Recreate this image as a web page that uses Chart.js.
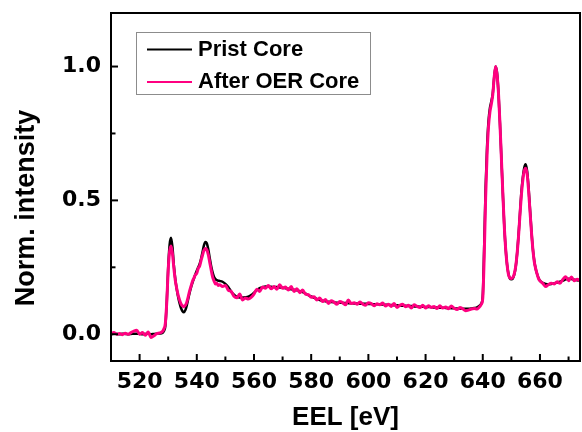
<!DOCTYPE html>
<html>
<head>
<meta charset="utf-8">
<script src="https://cdn.jsdelivr.net/npm/chart.js@4/dist/chart.umd.min.js"></script>
<style>
  html, body { margin: 0; padding: 0; background: #fff; }
  #wrap { width: 582px; height: 432px; }
</style>
</head>
<body>
<div id="wrap"><canvas id="eels" width="582" height="432"></canvas></div>
<script>
// energy loss axis [eV]
const energy = [
  510, 511, 512, 513, 514, 515, 516, 517, 518, 519, 520, 521, 522, 523, 524, 525, 526, 527,
  528, 528.5, 529, 529.5, 530, 530.5, 531, 531.5, 532, 532.5,
  533, 533.5, 534, 534.5, 535, 535.5, 536, 536.5, 537, 537.5,
  538, 538.5, 539, 539.5, 540, 540.5, 541, 541.5, 542, 542.5,
  543, 543.5, 544, 544.5, 545, 545.5, 546, 546.5, 547, 547.5,
  548,
  549, 550, 551, 552, 553, 554, 555, 556, 557, 558,
  559, 560, 561, 562, 563, 564, 565, 566, 567, 568,
  569, 570, 571, 572, 573, 574, 575, 576, 577, 578,
  579, 580, 581, 582, 583, 584, 585, 586, 587, 588,
  589, 590, 591, 592, 593, 594, 595, 596, 597, 598,
  599, 600, 601, 602, 603, 604, 605, 606, 607, 608,
  609, 610, 611, 612, 613, 614, 615, 616, 617, 618,
  619, 620, 621, 622, 623, 624, 625, 626, 627, 628,
  629, 630, 631, 632, 633, 634, 635, 636, 637,
  638, 638.5, 639, 639.5, 640, 640.5, 641, 641.5, 642, 642.5,
  643, 643.5, 644, 644.5, 645, 645.5, 646, 646.5, 647, 647.5,
  648, 648.5, 649, 649.5, 650, 650.5, 651, 651.5, 652, 652.5,
  653, 653.5, 654, 654.5, 655, 655.5, 656, 656.5, 657, 657.5,
  658, 658.5, 659, 659.5, 660,
  661, 662, 663, 664, 665, 666, 667, 668, 669, 670, 671, 672, 673, 674
];

const pristCore = [
  0.000, 0.002, 0.001, 0.000, 0.002, 0.001, 0.000, 0.001, 0.002, 0.002, 0.001, 0.000, 0.001, 0.002, 0.000, 0.001, 0.002, 0.003,
  0.005, 0.012, 0.030, 0.120, 0.250, 0.335, 0.360, 0.325, 0.255, 0.205,
  0.168, 0.138, 0.115, 0.097, 0.086, 0.082, 0.090, 0.108, 0.132, 0.155,
  0.176, 0.193, 0.208, 0.223, 0.237, 0.250, 0.263, 0.282, 0.307, 0.332,
  0.345, 0.340, 0.318, 0.286, 0.256, 0.232, 0.215, 0.206, 0.202, 0.200,
  0.199,
  0.196, 0.188, 0.176, 0.160, 0.148, 0.140, 0.137, 0.137, 0.138, 0.140,
  0.146, 0.155, 0.165, 0.172, 0.176, 0.178, 0.178, 0.177, 0.176, 0.176,
  0.175, 0.174, 0.172, 0.170, 0.168, 0.166, 0.164, 0.161, 0.157, 0.152,
  0.146, 0.141, 0.136, 0.132, 0.128, 0.125, 0.123, 0.121, 0.120, 0.119,
  0.118, 0.118, 0.117, 0.117, 0.116, 0.116, 0.115, 0.115, 0.114, 0.114,
  0.114, 0.113, 0.113, 0.112, 0.112, 0.111, 0.111, 0.110, 0.110, 0.109,
  0.108, 0.108, 0.107, 0.106, 0.106, 0.105, 0.105, 0.104, 0.104, 0.103,
  0.103, 0.102, 0.102, 0.101, 0.100, 0.100, 0.099, 0.099, 0.098, 0.098,
  0.097, 0.097, 0.096, 0.096, 0.095, 0.095, 0.095, 0.096, 0.098,
  0.100, 0.104, 0.108, 0.115, 0.145, 0.330, 0.550, 0.700, 0.795, 0.845,
  0.870, 0.900, 0.960, 1.000, 0.975, 0.900, 0.790, 0.660, 0.530, 0.410,
  0.320, 0.260, 0.225, 0.208, 0.205, 0.208, 0.222, 0.250, 0.300, 0.370,
  0.450, 0.530, 0.585, 0.622, 0.635, 0.610, 0.550, 0.470, 0.390, 0.320,
  0.275, 0.245, 0.225, 0.210, 0.200,
  0.192, 0.188, 0.187, 0.188, 0.190, 0.193, 0.196, 0.200, 0.205, 0.207, 0.206, 0.204, 0.202, 0.200
];

const afterOerCore = [
  0.000, 0.006, 0.000, 0.003, -0.002, 0.004, 0.000, 0.006, 0.012, 0.015, 0.000, 0.006, -0.004, 0.008, -0.012, -0.006, 0.002, 0.005,
  0.010, 0.020, 0.040, 0.120, 0.240, 0.310, 0.330, 0.300, 0.245, 0.200,
  0.170, 0.145, 0.127, 0.113, 0.106, 0.103, 0.108, 0.120, 0.140, 0.162,
  0.180, 0.198, 0.210, 0.222, 0.228, 0.246, 0.255, 0.276, 0.295, 0.313,
  0.320, 0.316, 0.298, 0.270, 0.242, 0.215, 0.200, 0.188, 0.190, 0.182,
  0.185,
  0.178, 0.182, 0.165, 0.160, 0.142, 0.136, 0.150, 0.128, 0.135, 0.132,
  0.138, 0.150, 0.168, 0.160, 0.176, 0.172, 0.182, 0.170, 0.178, 0.168,
  0.185, 0.172, 0.176, 0.165, 0.178, 0.160, 0.170, 0.155, 0.165, 0.150,
  0.148, 0.138, 0.140, 0.128, 0.135, 0.122, 0.130, 0.115, 0.125, 0.120,
  0.112, 0.122, 0.118, 0.110, 0.128, 0.115, 0.118, 0.112, 0.120, 0.113,
  0.108, 0.118, 0.115, 0.106, 0.114, 0.110, 0.117, 0.105, 0.112, 0.104,
  0.115, 0.100, 0.108, 0.112, 0.103, 0.108, 0.098, 0.110, 0.104, 0.100,
  0.108, 0.098, 0.106, 0.100, 0.104, 0.096, 0.106, 0.098, 0.102, 0.095,
  0.105, 0.097, 0.092, 0.100, 0.095, 0.088, 0.090, 0.094, 0.096,
  0.094, 0.098, 0.104, 0.112, 0.135, 0.290, 0.510, 0.670, 0.775, 0.830,
  0.860, 0.895, 0.960, 1.000, 0.970, 0.900, 0.790, 0.660, 0.530, 0.410,
  0.320, 0.260, 0.222, 0.210, 0.208, 0.212, 0.225, 0.252, 0.300, 0.365,
  0.445, 0.520, 0.575, 0.610, 0.620, 0.600, 0.540, 0.462, 0.385, 0.320,
  0.272, 0.245, 0.225, 0.208, 0.200,
  0.190, 0.178, 0.186, 0.190, 0.188, 0.196, 0.190, 0.205, 0.215, 0.200, 0.214, 0.200, 0.205, 0.200
];

const seriesNames = ['Prist Core', 'After OER Core'];
const seriesColors = ['#000000', '#ff0080'];
const xRange = [510, 674];
const yRange = [-0.1, 1.2];

const toPoints = vals => energy.map((e, i) => ({ x: e, y: vals[i] }));

// box, inward ticks, legend and y title
const framePlugin = {
    id: 'frame',
    afterDraw(chart) {
        const { ctx, chartArea: a, scales } = chart;
        ctx.save();
        ctx.strokeStyle = '#000';
        ctx.lineWidth = 2;
        ctx.strokeRect(a.left, a.top, a.right - a.left, a.bottom - a.top);

        scales.x.ticks.forEach(t => {
            const px = scales.x.getPixelForValue(t.value);
            const len = t.label !== '' ? 7 : 4.5;
            ctx.beginPath();
            ctx.moveTo(px, a.bottom);
            ctx.lineTo(px, a.bottom - len);
            ctx.stroke();
        });
        scales.y.ticks.forEach(t => {
            const py = scales.y.getPixelForValue(t.value);
            const len = t.label !== '' ? 7 : 4.5;
            ctx.beginPath();
            ctx.moveTo(a.left, py);
            ctx.lineTo(a.left + len, py);
            ctx.stroke();
        });

        // legend
        const lx = a.left + 25, ly = a.top + 19;
        ctx.fillStyle = '#fff';
        ctx.fillRect(lx, ly, 234, 62);
        ctx.strokeStyle = '#8c8c8c';
        ctx.lineWidth = 1;
        ctx.strokeRect(lx + 0.5, ly + 0.5, 234, 62);
        ctx.font = 'bold 22px "Liberation Sans", Arial, sans-serif';
        ctx.textAlign = 'left';
        ctx.textBaseline = 'alphabetic';
        chart.data.datasets.forEach((ds, i) => {
            const cy = ly + 17.5 + i * 32.5;
            ctx.strokeStyle = ds.borderColor;
            ctx.lineWidth = 2;
            ctx.beginPath();
            ctx.moveTo(lx + 11, cy);
            ctx.lineTo(lx + 56, cy);
            ctx.stroke();
            ctx.fillStyle = '#000';
            ctx.fillText(ds.label, lx + 62, cy + 6);
        });

        // y axis title
        ctx.translate(33.5, 208);
        ctx.rotate(-Math.PI / 2);
        ctx.font = 'bold 27px "Liberation Sans", Arial, sans-serif';
        ctx.textAlign = 'center';
        ctx.fillStyle = '#000';
        ctx.fillText('Norm. intensity', 0, 0);
        ctx.restore();
    }
};

const ctx = document.getElementById('eels').getContext('2d');
new Chart(ctx, {
    type: 'line',
    data: {
        datasets: [
            {
                label: seriesNames[0],
                data: toPoints(pristCore),
                borderColor: seriesColors[0],
                borderWidth: 2.5,
                pointRadius: 0,
                cubicInterpolationMode: 'monotone',
                order: 2
            },
            {
                label: seriesNames[1],
                data: toPoints(afterOerCore),
                borderColor: seriesColors[1],
                borderWidth: 3,
                pointRadius: 0,
                cubicInterpolationMode: 'monotone',
                order: 1
            }
        ]
    },
    options: {
        responsive: false,
        animation: false,
        layout: { padding: { top: 13, right: 2, left: 0, bottom: 0 } },
        scales: {
            x: {
                type: 'linear',
                min: xRange[0],
                max: xRange[1],
                grid: { display: false, drawTicks: false },
                border: { display: false },
                ticks: {
                    stepSize: 10,
                    includeBounds: false,
                    autoSkip: false,
                    maxRotation: 0,
                    padding: 8,
                    color: '#000',
                    font: { family: 'DejaVu Sans', weight: 'bold', size: 22 },
                    callback: v => (v % 20 === 0 ? String(v) : '')
                },
                title: {
                    display: true,
                    text: 'EEL [eV]',
                    color: '#000',
                    font: { family: 'Liberation Sans', weight: 'bold', size: 26, lineHeight: 1 },
                    padding: { top: 0, bottom: 1 }
                },
                afterFit(s) {
                    s.height = 71;
                    s.paddingLeft = 0;
                    s.paddingRight = 0;
                }
            },
            y: {
                min: yRange[0],
                max: yRange[1],
                grid: { display: false, drawTicks: false },
                border: { display: false },
                ticks: {
                    stepSize: 0.25,
                    includeBounds: false,
                    autoSkip: false,
                    padding: 10,
                    color: '#000',
                    font: { family: 'DejaVu Sans', weight: 'bold', size: 22 },
                    callback: v => (Math.abs(v * 2 - Math.round(v * 2)) < 1e-6 ? v.toFixed(1) : '')
                },
                afterFit(s) {
                    s.width = 111;
                    s.paddingTop = 0;
                    s.paddingBottom = 0;
                }
            }
        },
        plugins: {
            legend: { display: false },
            tooltip: { enabled: false }
        }
    },
    plugins: [framePlugin]
});
</script>
</body>
</html>
